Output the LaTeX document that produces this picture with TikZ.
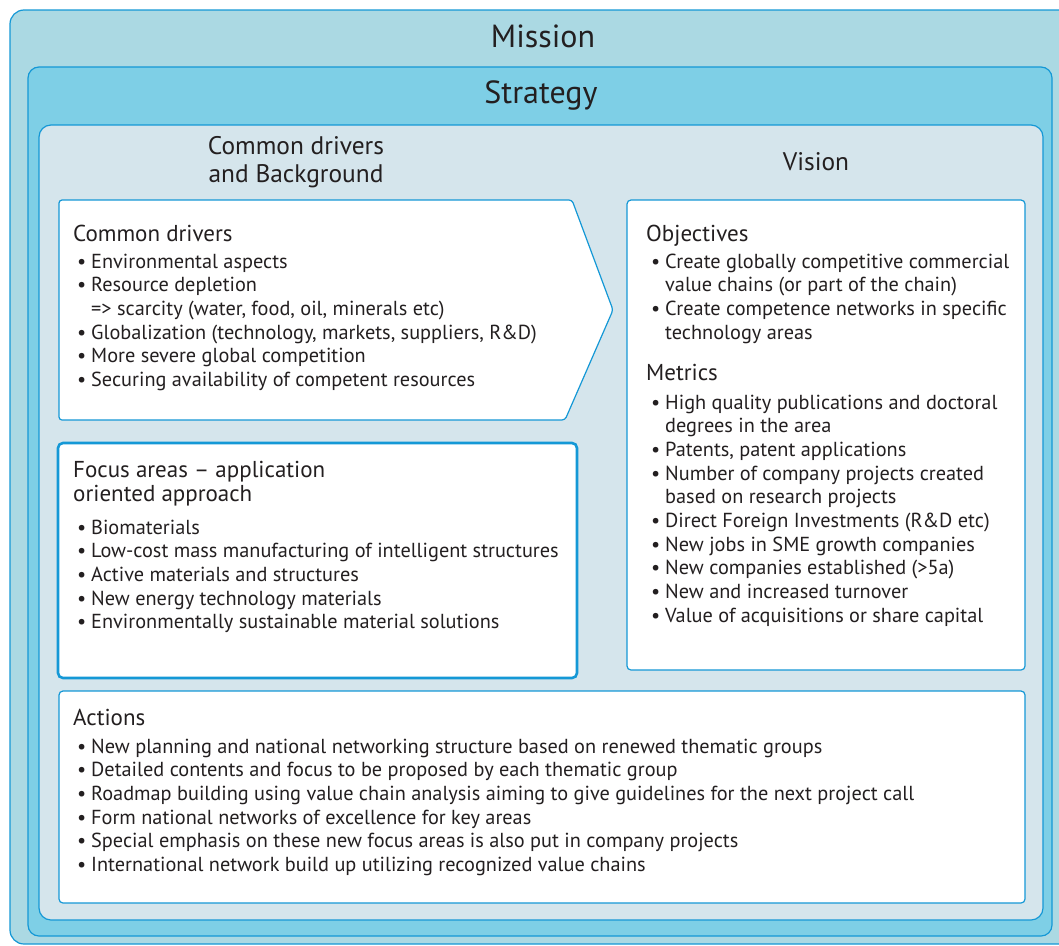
\documentclass[tikz,border=0pt]{standalone}
\usepackage{fontspec}
\setmainfont{PT Sans}
\usetikzlibrary{positioning}
\definecolor{missionfill}{RGB}{171,217,227}
\definecolor{strategyfill}{RGB}{126,207,230}
\definecolor{panelfill}{RGB}{213,229,236}
\definecolor{edgeblue}{RGB}{20,152,214}
\definecolor{inkgray}{RGB}{35,31,32}
\newcommand{\bul}{\makebox[0pt][r]{\textbullet\hspace{5pt}}}
\tikzset{
    frame/.style={draw=edgeblue, line width=1.2pt},
    line/.style={anchor=base west, inner sep=0pt, text=inkgray,
        font=\fontsize{20.3}{23.7}\selectfont},
    head/.style={anchor=base west, inner sep=0pt, text=inkgray,
        font=\fontsize{23}{26}\selectfont},
    title/.style={anchor=base, inner sep=0pt, text=inkgray}
}

\begin{document}
\begin{tikzpicture}[x=1pt, y=-1pt]
    \useasboundingbox (0, 0) rectangle (1059, 945);
    \clip (0, 0) rectangle (1059, 945);
    % nested panels
    \draw [frame, fill=missionfill, rounded corners=14pt] (10, 10) rectangle (1080, 944);
    \draw [frame, fill=strategyfill, rounded corners=11pt] (28, 67) rectangle (1052, 936);
    \draw [frame, fill=panelfill, rounded corners=12pt] (39, 125) rectangle (1043, 920);
    % white boxes
    \draw [frame, fill=white, rounded corners=3pt]
        (59, 200) -- (572, 200) -- (613, 310) -- (565, 420) -- (59, 420) -- cycle;
    \draw [frame, fill=white, rounded corners=4pt] (627, 200) rectangle (1025, 670);
    \draw [frame, fill=white, rounded corners=5pt, line width=2.6pt] (58, 443) rectangle (577, 678);
    \draw [frame, fill=white, rounded corners=4pt] (59, 691) rectangle (1025, 903);
    % titles
    \node [title, font=\fontsize{32}{36}\selectfont] (mission) at (543, 47) {Mission};
    \node [title, font=\fontsize{32}{36}\selectfont] (strategy) at (541, 103) {Strategy};
    \node [title, font=\fontsize{25.4}{28}\selectfont] (bg1) at (296, 154) {Common drivers};
    \node [title, font=\fontsize{25.4}{28}\selectfont] (bg2) at (296, 182) {and Background};
    \node [title, font=\fontsize{25.4}{28}\selectfont] (vision) at (816, 170) {Vision};
    % box headings
    \node [head] (cdhead) at (73, 241) {Common drivers};
    \node [head] (fahead1) at (73, 477) {Focus areas -- application};
    \node [head] (fahead2) at (73, 501) {oriented approach};
    \node [head] (obhead) at (646, 241) {Objectives};
    \node [head] (mehead) at (646, 380) {Metrics};
    \node [head] (achead) at (73, 725) {Actions};
    % common drivers
    \foreach \t [count=\k from 0] in {{\bul Environmental aspects}, {\bul Resource depletion},
        {=> scarcity (water, food, oil, minerals etc)},
        {\bul Globalization (technology, markets, suppliers, R\&D)},
        {\bul More severe global competition},
        {\bul Securing availability of competent resources}} {
        \node [line] (cd\k) at (91, 268+23.7*\k) {\t};
    }
    % focus areas
    \foreach \t [count=\k from 0] in {{\bul Biomaterials},
        {\bul Low-cost mass manufacturing of intelligent structures},
        {\bul Active materials and structures},
        {\bul New energy technology materials},
        {\bul Environmentally sustainable material solutions}} {
        \node [line] (fa\k) at (91, 534+23.7*\k) {\t};
    }
    % objectives
    \foreach \t [count=\k from 0] in {{\bul Create globally competitive commercial},
        {value chains (or part of the chain)},
        {\bul Create competence networks in specific},
        {technology areas}} {
        \node [line] (ob\k) at (665, 268+23.7*\k) {\t};
    }
    % metrics
    \foreach \t [count=\k from 0] in {{\bul High quality publications and doctoral},
        {degrees in the area},
        {\bul Patents, patent applications},
        {\bul Number of company projects created},
        {based on research projects},
        {\bul Direct Foreign Investments (R\&D etc)},
        {\bul New jobs in SME growth companies},
        {\bul New companies established (>5a)},
        {\bul New and increased turnover},
        {\bul Value of acquisitions or share capital}} {
        \node [line] (me\k) at (665, 409+23.7*\k) {\t};
    }
    % actions
    \foreach \t [count=\k from 0] in {{\bul New planning and national networking structure based on renewed thematic groups},
        {\bul Detailed contents and focus to be proposed by each thematic group},
        {\bul Roadmap building using value chain analysis aiming to give guidelines for the next project call},
        {\bul Form national networks of excellence for key areas},
        {\bul Special emphasis on these new focus areas is also put in company projects},
        {\bul International network build up utilizing recognized value chains}} {
        \node [line] (ac\k) at (91, 753+23.7*\k) {\t};
    }
\end{tikzpicture}
\end{document}
